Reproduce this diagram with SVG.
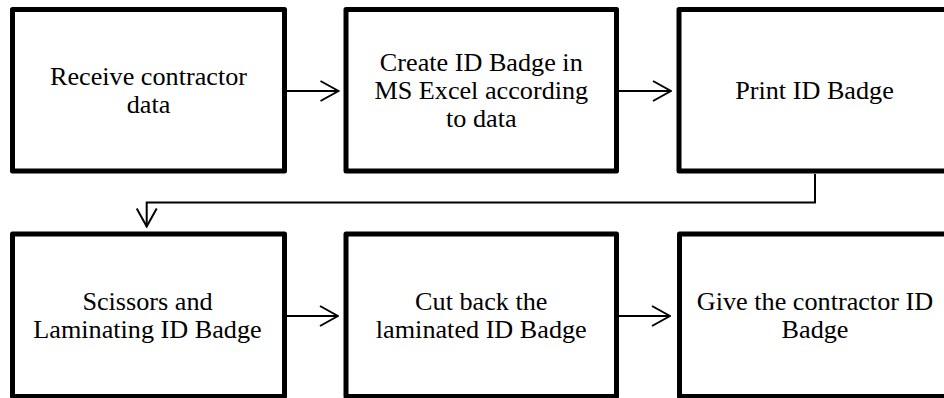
<svg xmlns="http://www.w3.org/2000/svg" width="944" height="398" viewBox="0 0 944 398">
  <style>
    .box { fill: #ffffff; stroke: #000000; stroke-width: 5; stroke-linejoin: round; }
    .lbl { font-family: 'Liberation Serif', 'DejaVu Serif', serif; font-size: 26.2px; fill: #000000; text-anchor: middle; }
    .conn { fill: none; stroke: #000000; stroke-width: 2; marker-end: url(#chev); }
  </style>
  <defs>
    <!-- open chevron arrowhead, tip at the path end -->
    <marker id="chev" viewBox="0 0 20 22" refX="19" refY="11" markerWidth="20" markerHeight="22" markerUnits="userSpaceOnUse" orient="auto">
      <path d="M1,1 L19,11 L1,21" fill="none" stroke="#000000" stroke-width="2"/>
    </marker>
  </defs>
  <rect width="944" height="398" fill="#ffffff"/>

  <g id="connectors">
    <path class="conn" d="M287,91 H338.5"/>
    <path class="conn" d="M619,91 H671"/>
    <path class="conn" d="M815,174 V202.5 H146.7 V226.5"/>
    <path class="conn" d="M287,316 H338"/>
    <path class="conn" d="M619,316 H670"/>
  </g>

  <g id="receive">
    <rect class="box" x="12.5" y="9.5" width="272" height="161.5"/>
    <text class="lbl" x="148.5" y="85">Receive contractor</text>
    <text class="lbl" x="148.5" y="112.5">data</text>
  </g>
  <g id="create">
    <rect class="box" x="346" y="9.5" width="270.5" height="161.5"/>
    <text class="lbl" x="481.3" y="71">Create ID Badge in</text>
    <text class="lbl" x="481.3" y="99">MS Excel according</text>
    <text class="lbl" x="481.3" y="126.5">to data</text>
  </g>
  <g id="print">
    <rect class="box" x="679" y="9.5" width="271" height="161.5"/>
    <text class="lbl" x="814.5" y="99">Print ID Badge</text>
  </g>
  <g id="laminate">
    <rect class="box" x="12.5" y="234" width="272" height="162.5"/>
    <text class="lbl" x="147.5" y="310">Scissors and</text>
    <text class="lbl" x="147.5" y="337.5">Laminating ID Badge</text>
  </g>
  <g id="cutback">
    <rect class="box" x="346" y="234" width="270.5" height="162.5"/>
    <text class="lbl" x="481.3" y="310">Cut back the</text>
    <text class="lbl" x="481.3" y="337.5">laminated ID Badge</text>
  </g>
  <g id="give">
    <rect class="box" x="679.5" y="234" width="271" height="162.5"/>
    <text class="lbl" x="815" y="310">Give the contractor ID</text>
    <text class="lbl" x="815" y="337.5">Badge</text>
  </g>
</svg>
